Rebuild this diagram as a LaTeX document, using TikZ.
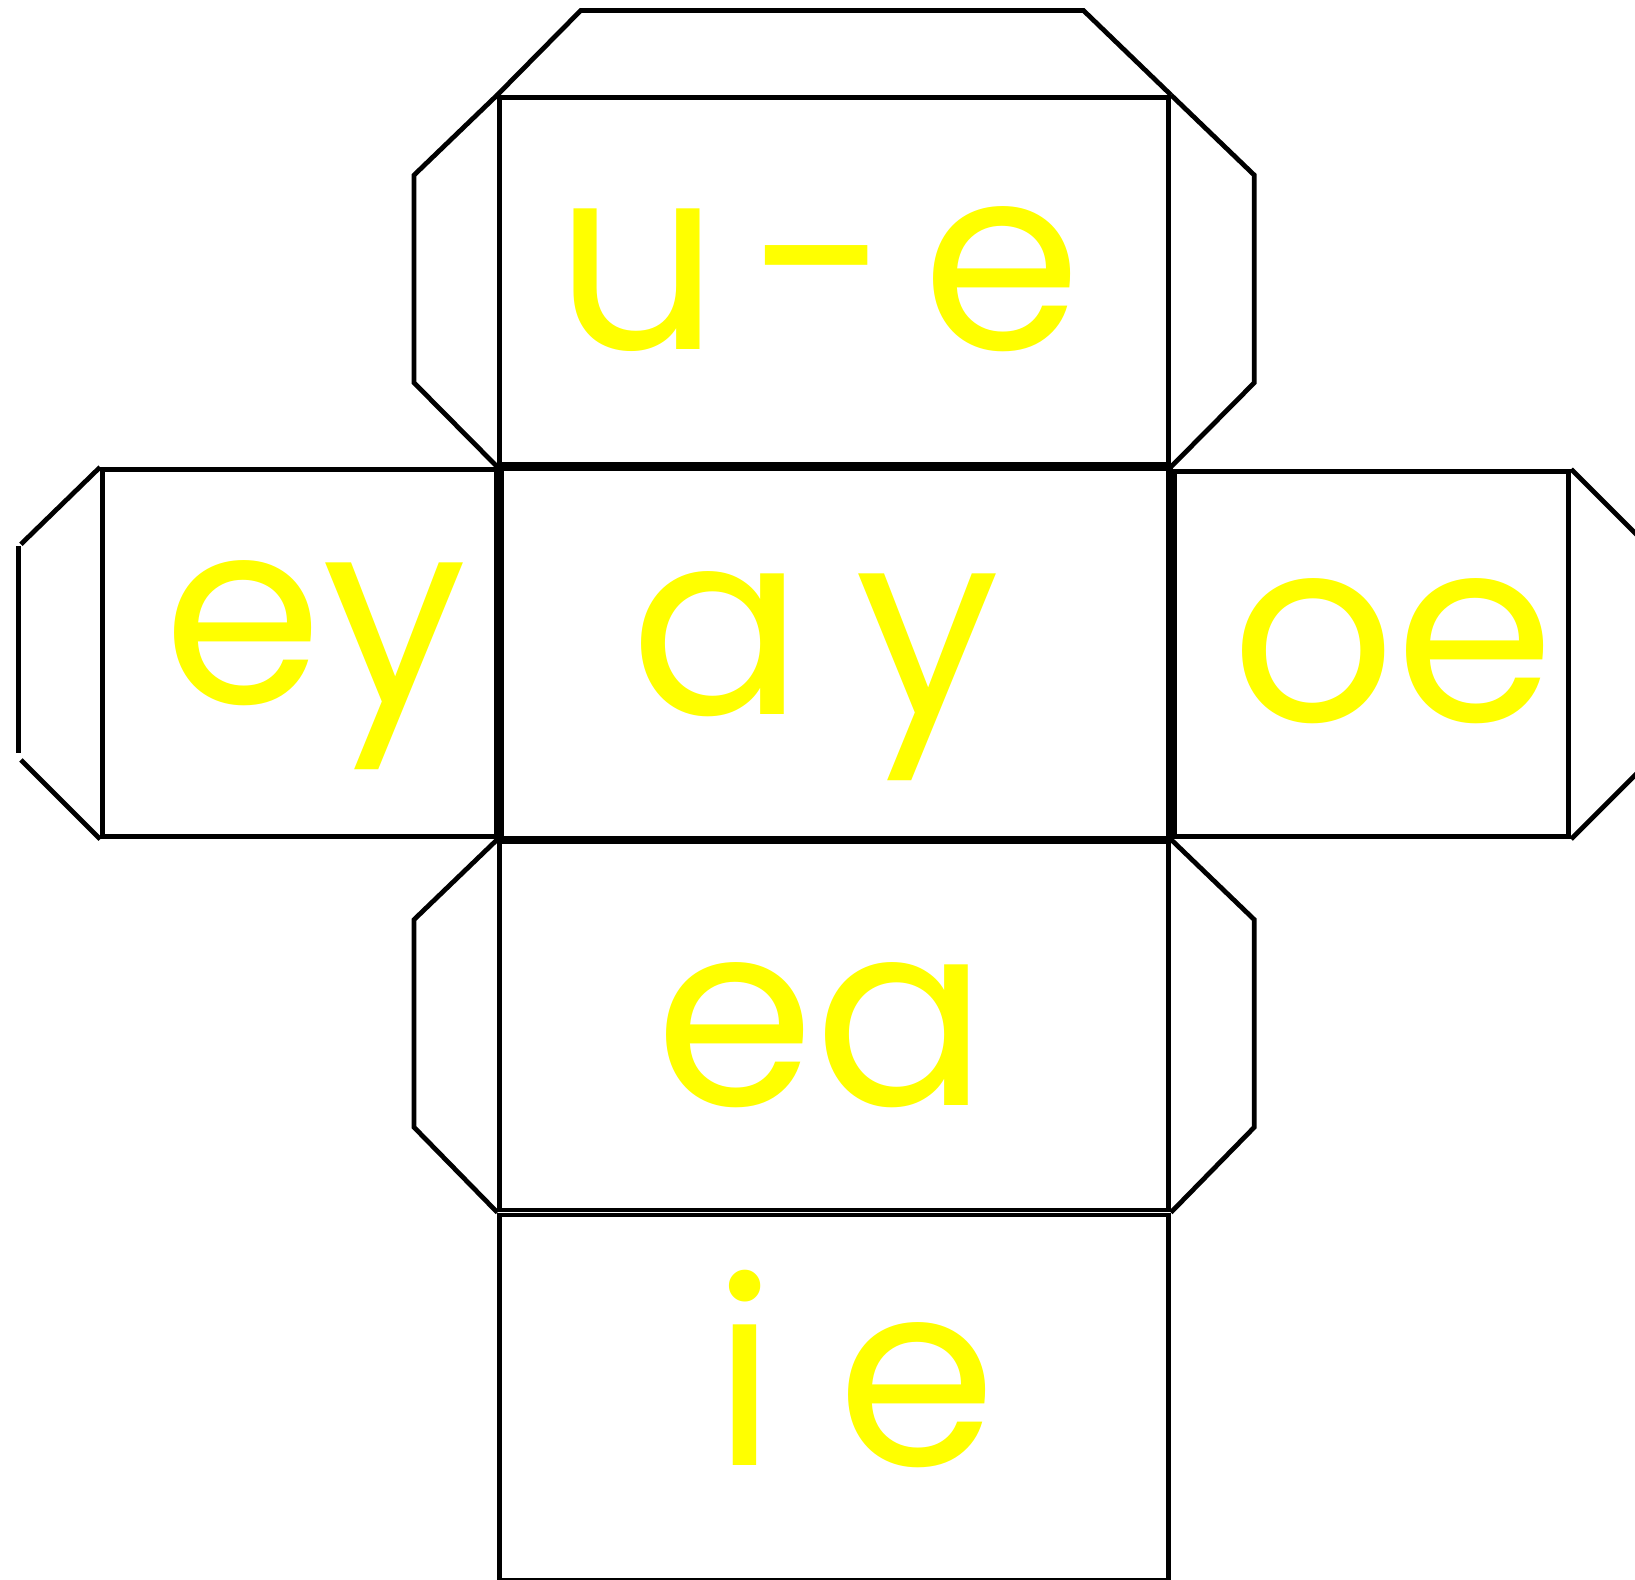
\documentclass[tikz,border=0pt]{standalone}
\usepackage{fontspec}
\setmainfont{Poppins}
\usepackage{tikz}
\definecolor{letter}{HTML}{FFFF00}
\tikzset{
  face/.style={draw=black,line width=1.3pt,inner sep=0pt,anchor=north west},
  midface/.style={face,line width=1.8pt},
  tab/.style={draw=black,line width=1.3pt},
  sound/.style={text=letter,inner sep=0pt,anchor=base,
                font=\fontsize{70}{80}\selectfont},
}
\begin{document}
\begin{tikzpicture}[x=0.01cm,y=0.01cm]
\useasboundingbox (0,0) rectangle (1568,-1515);
\clip (0,0) rectangle (1568,-1515);

% faces of the cube
\node[face, minimum width=6.41cm, minimum height=3.52cm] (fue) at (477,-91) {};
\node[face, minimum width=3.78cm, minimum height=3.52cm] (fey) at (96,-448) {};
\node[face, minimum width=3.78cm, minimum height=3.50cm] (foe) at (1124,-450) {};
\node[face, minimum width=6.41cm, minimum height=3.53cm] (fea) at (477,-805) {};
\node[face, minimum width=6.41cm, minimum height=3.50cm] (fie) at (477,-1163) {};
\node[midface, minimum width=6.41cm, minimum height=3.57cm] (fay) at (477,-445) {};

% glue tabs
\draw[tab] (fue.north west) -- ++(80,81) -- ++(482,0) -- (fue.north east);
\draw[tab] (fue.north west) -- ++(-80,-77) -- ++(0,-199) -- (fue.south west);
\draw[tab] (fue.north east) -- ++(80,-77) -- ++(0,-199) -- (fue.south east);
\draw[tab] (fea.north west) -- ++(-80,-77) -- ++(0,-199) -- (fea.south west);
\draw[tab] (fea.north east) -- ++(80,-77) -- ++(0,-199) -- (fea.south east);
\draw[tab] (fey.north west) -- ++(-76,-74);
\draw[tab] ([shift={(-78,-76)}]fey.north west) -- ++(0,-198);
\draw[tab] (fey.south west) -- ++(-76,76);
\draw[tab] (foe.north east) -- ++(80,-80);
\draw[tab] (foe.south east) -- ++(80,80);

% sounds
\node[sound] (tue) at (785,-335) {u\hspace{0.12em}-\hspace{0.12em}e};
\node[sound] (tey) at (302,-675) {ey};
\node[sound] (tay) at (782,-685) {a\hspace{0.2em}y};
\node[sound] (toe) at (1336,-692) {oe};
\node[sound] (tea) at (788,-1060) {ea};
\node[sound] (tie) at (820,-1405) {i\hspace{0.24em}e};

\end{tikzpicture}
\end{document}
